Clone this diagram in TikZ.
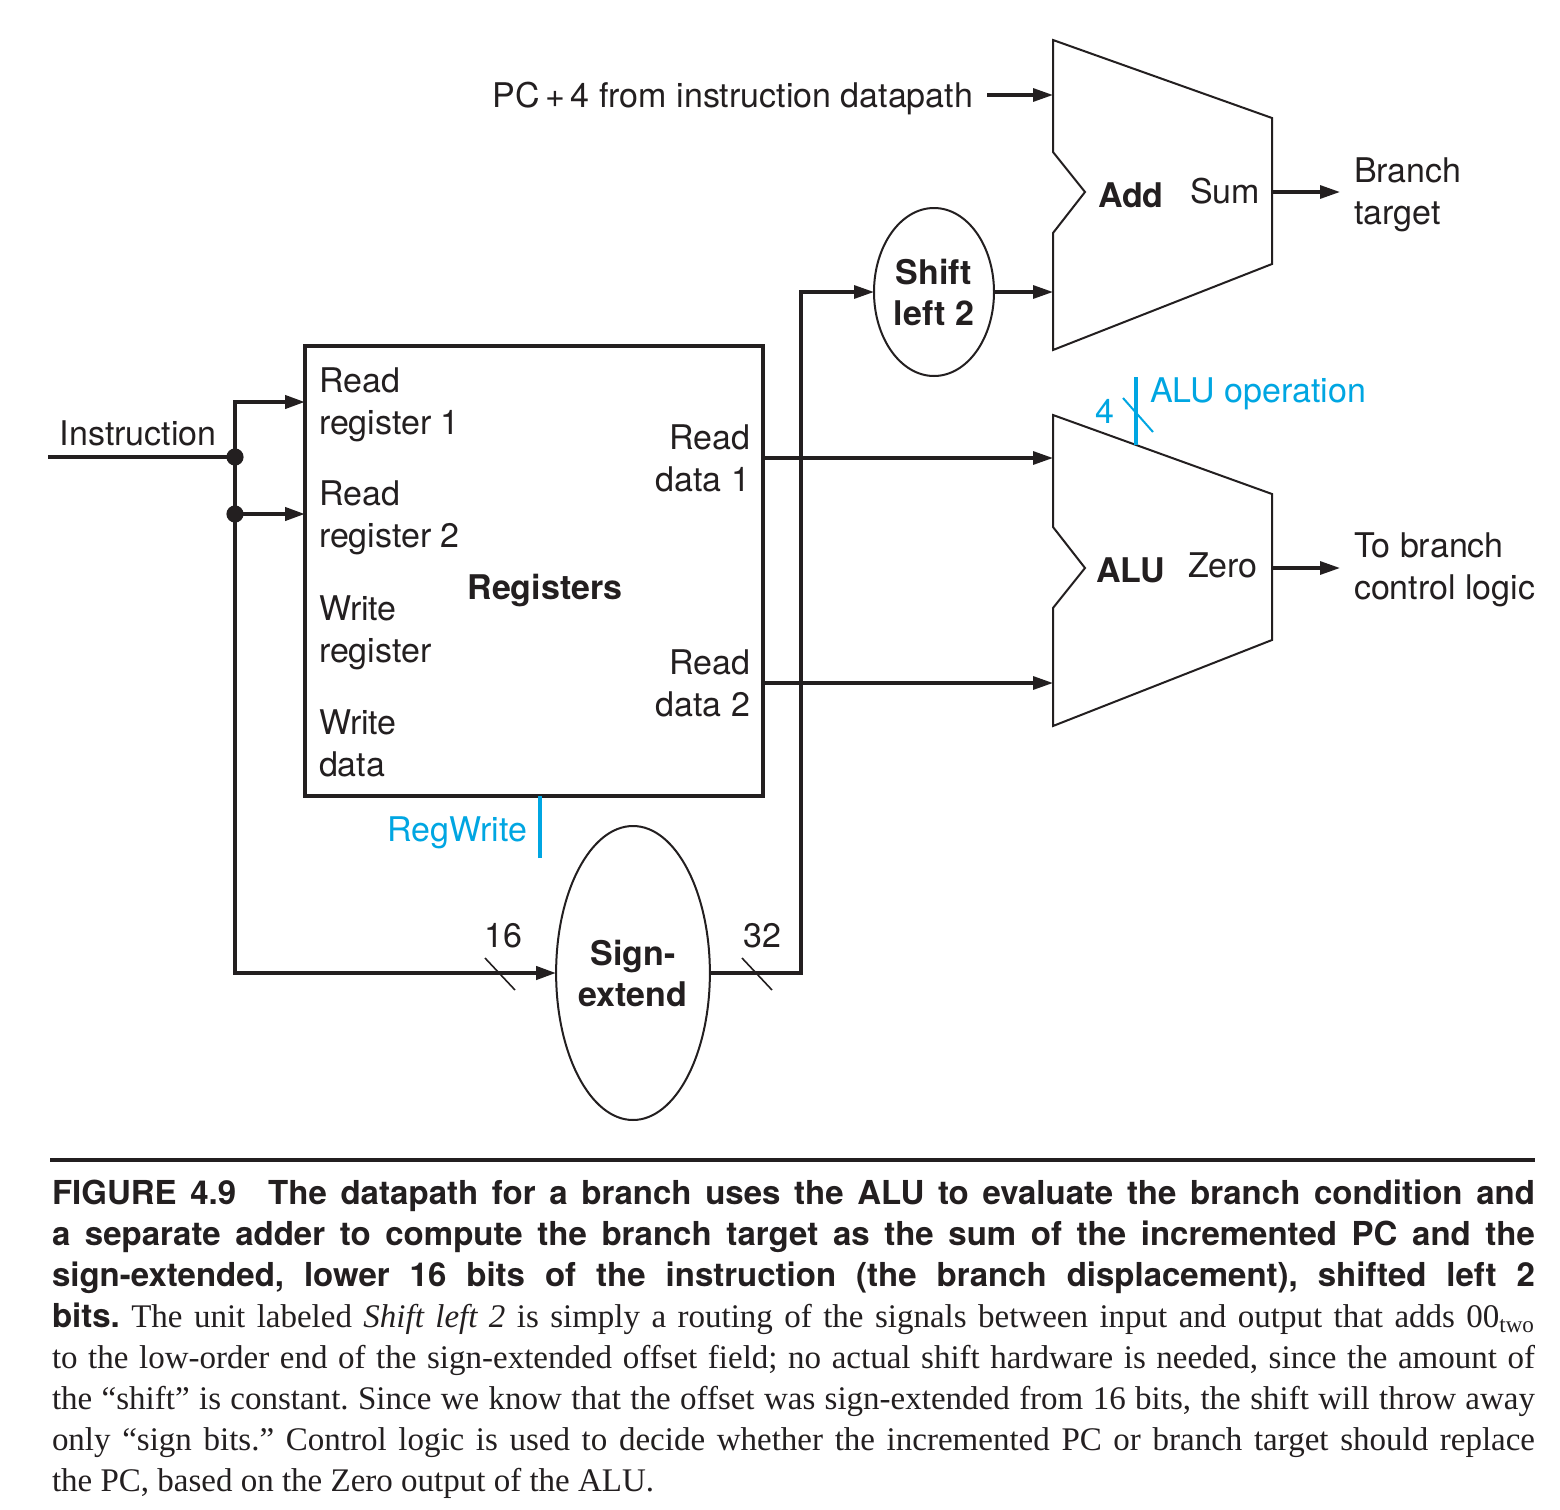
\documentclass[tikz,border=0pt]{standalone}
\usepackage{fontspec}
\setmainfont{TeX Gyre Heros}
\newfontfamily\capsans{TeX Gyre Heros}
\newfontfamily\capserif{Liberation Serif}
\usetikzlibrary{arrows.meta,shapes.geometric}
\definecolor{ink}{HTML}{231F20}
\definecolor{ctrl}{RGB}{0,166,226}
\newlength\capw
\setlength\capw{741.5pt}
\newcommand\capline[1]{\makebox[\capw][s]{#1}}

\begin{document}
\frenchspacing
\begin{tikzpicture}[x=0.5pt,y=-0.5pt,
  every node/.style={inner sep=0pt, outer sep=0pt, text=ink},
  font=\fontsize{17}{21}\selectfont,
  tip/.style={-{Triangle[length=10pt,width=6.5pt]}},
  bus/.style={draw=ink, line width=2pt},
  link/.style={draw=ink, line width=1.6pt},
  unit/.style={draw=ink, line width=1pt, line join=miter},
  tick/.style={draw=ink, line width=0.8pt},
  ctl/.style={draw=ctrl, line width=1.8pt},
  boldlbl/.style={font=\fontsize{17}{20.5}\selectfont\bfseries},
  oval/.style={ellipse, draw=ink, line width=1pt, align=center, boldlbl},
  side/.style={align=left, inner xsep=7pt, inner ysep=0pt},
]
\fill[white] (0,0) rectangle (1560,1510);
\useasboundingbox (0,0) rectangle (1560,1510);

% ---------- register file
\node[draw=ink, line width=1.6pt, minimum width=229pt, minimum height=225pt] (regs) at (534,571) {};
\node[anchor=north west, align=left] (rr1) at (319,368) {Read\\register 1};
\node[anchor=north west, align=left] (rr2) at (319,481) {Read\\register 2};
\node[anchor=north west, align=left] (wr) at (319,596) {Write\\register};
\node[anchor=north west, align=left] (wd) at (319,710) {Write\\data};
\node[anchor=north east, align=right] (rd1) at (750,425) {Read\\data 1};
\node[anchor=north east, align=right] (rd2) at (750,650) {Read\\data 2};
\node[anchor=base, boldlbl] (regname) at (545,599) {Registers};

% ---------- adder
\coordinate (addA) at (1053,95);
\coordinate (addB) at (1053,292);
\coordinate (addOut) at (1272,192);
\draw[unit] (1053,40) -- (1272,118) -- (1272,264) -- (1053,350) -- (1053,233)
  -- (1085,192) -- (1053,152) -- cycle;
\node[anchor=base west, boldlbl] (addname) at (1098,207) {Add};
\node[anchor=base west] (sumlbl) at (1190,203) {Sum};

% ---------- ALU
\coordinate (aluA) at (1053,458);
\coordinate (aluB) at (1053,683);
\coordinate (aluOut) at (1272,568);
\draw[unit] (1053,415) -- (1272,494) -- (1272,640) -- (1053,726) -- (1053,608)
  -- (1085,568) -- (1053,527) -- cycle;
\node[anchor=base west, boldlbl] (aluname) at (1096,582) {ALU};
\node[anchor=base west] (zerolbl) at (1188,577) {Zero};

% ---------- shift and sign-extend units
\node[oval, minimum width=60pt, minimum height=84pt] (shift) at (934,292) {Shift\\left 2};
\node[oval, minimum width=75pt, minimum height=147pt] (signext) at (633,973) {Sign-\\extend};

% ---------- outside labels
\node[anchor=base east, inner xsep=7pt] (pc4) at (987,107) {PC\,+\,4 from instruction datapath};
\node[anchor=north west, side] (branch) at (1340,158) {Branch\\target};
\node[anchor=north west, side] (tobranch) at (1340,533) {To branch\\control logic};
\node[anchor=base west] (instr) at (60,445) {Instruction};
\node[anchor=base] (w16) at (503,947) {16};
\node[anchor=base] (w32) at (762,947) {32};

% ---------- instruction fan-out
\coordinate (inStart) at (48,457);
\coordinate (j1) at (235,457);
\coordinate (j2) at (235,514);
\coordinate (rr1in) at (305,402);
\draw[bus] (inStart) -- (j1);
\draw[bus, tip] (j1) |- (rr1in);
\draw[bus, tip] (j2) -- (regs.west |- j2);
\draw[bus] (j1) -- (j2);
\draw[bus, tip] (j2) |- (signext.west);
\fill[ink] (j1) circle[radius=4.3pt];
\fill[ink] (j2) circle[radius=4.3pt];
\draw[tick] (485,958) -- (515,990);

% ---------- sign-extend to shifter to adder
\coordinate (bend) at (801,973);
\draw[link, tip] (signext.east) -- (bend) |- (shift.west);
\draw[tick] (742,958) -- (772,990);
\draw[link, tip] (shift.east) -- (addB);
\draw[link, tip] (pc4.east |- addA) -- (addA);
\draw[link, tip] (addOut) -- (branch.west |- addOut);

% ---------- register outputs to ALU
\draw[link, tip] (regs.east |- aluA) -- (aluA);
\draw[link, tip] (regs.east |- aluB) -- (aluB);
\draw[link, tip] (aluOut) -- (tobranch.west |- aluOut);

% ---------- control signals
\coordinate (opTop) at (1136,377);
\coordinate (opHit) at (1136,445);
\draw[ctl] (opTop) -- (opHit);
\draw[tick, draw=ctrl, line width=1pt] (1123,398) -- (1153,432);
\node[anchor=base west, text=ctrl] (aluop) at (1150,402) {ALU operation};
\node[anchor=base east, text=ctrl] (opw) at (1114,423) {4};
\coordinate (rwEnd) at (540,858);
\draw[ctl] (rwEnd) -- (rwEnd |- regs.south);
\node[anchor=base east, text=ctrl] (regwrite) at (527,841) {RegWrite};

% ---------- caption
\draw[ink, line width=2pt] (50,1160) -- (1535,1160);
\node[anchor=north west, align=left,
      font=\capserif\fontsize{16.5}{20.5}\selectfont] (caption) at (52,1180) {%
\capline{\capsans\bfseries FIGURE 4.9\hspace{16pt}The datapath for a branch uses the ALU to evaluate the branch condition and}\\
\capline{\capsans\bfseries a separate adder to compute the branch target as the sum of the incremented PC and the}\\
\capline{\capsans\bfseries sign-extended, lower 16 bits of the instruction (the branch displacement), shifted left 2}\\
\capline{{\capsans\bfseries bits.} The unit labeled \textit{Shift left 2} is simply a routing of the signals between input and output that adds 00\textsubscript{two}}\\
\capline{to the low-order end of the sign-extended offset field; no actual shift hardware is needed, since the amount of}\\
\capline{the “shift” is constant. Since we know that the offset was sign-extended from 16 bits, the shift will throw away}\\
\capline{only “sign bits.” Control logic is used to decide whether the incremented PC or branch target should replace}\\
the PC, based on the Zero output of the ALU.};
\end{tikzpicture}
\end{document}
